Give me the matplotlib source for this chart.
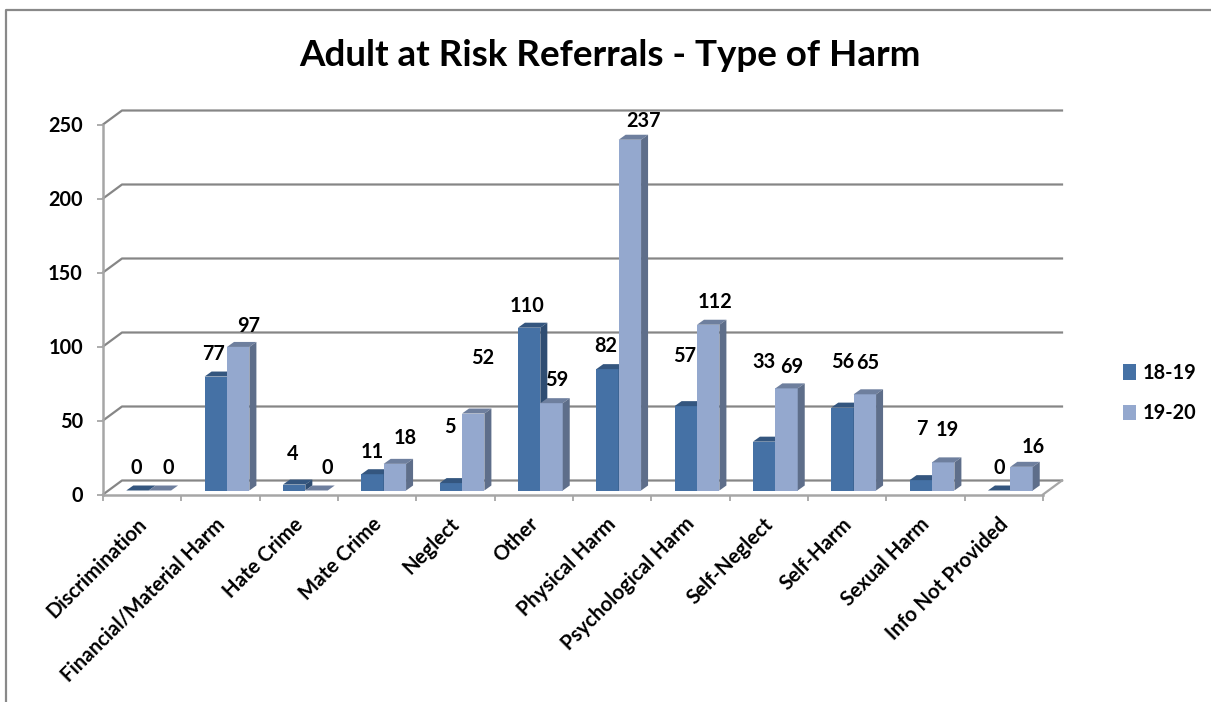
## Adult at Risk Referrals bar chart, drawn to look like a 3D column chart
import matplotlib
matplotlib.use('Agg')
import matplotlib.pyplot as plt
import numpy as np
from matplotlib.lines import Line2D
from matplotlib.transforms import ScaledTranslation

#-----Data---------
categories = ['Discrimination', 'Financial/Material Harm', 'Hate Crime', 'Mate Crime',
              'Neglect', 'Other', 'Physical Harm', 'Psychological Harm', 'Self-Neglect',
              'Self-Harm', 'Sexual Harm', 'Info Not Provided']
vals_1819 = [0, 77, 4, 11, 5, 110, 82, 57, 33, 56, 7, 0]
vals_1920 = [0, 97, 0, 18, 52, 59, 237, 112, 69, 65, 19, 16]
yticks = [0, 50, 100, 150, 200, 250]

#-----data label nudges, pixels from the top centre of each bar
nudge_x_1819 = [-1.5, -2, -1, -0.5, -1, -2, -1.5, -1, 0, 0, 1, 0]
nudge_y_1819 = [23, 23, 31, 22, 56, 22, 23, 50, 80, 46, 51, 22]
nudge_x_1920 = [8, 10, 10.5, 10, 9, 5.5, 14, 7, 5.5, 3, 4, 11.5]
nudge_y_1920 = [23, 21, 23, 26, 56, 23, 19, 23, 21, 31, 32, 20]

plt.rcParams['font.family'] = ['Lato', 'DejaVu Sans']
plt.rcParams['font.weight'] = 'bold'

W, H = 1211, 702
LEFT, RIGHT, BASE, TOP = 103, 1043, 494.5, 124.5
GRID = '#868686'
AXIS = '#a6a6a6'
LABEL_SIZE = 14.3

fig = plt.figure(figsize=(W / 100, H / 100), dpi=100)
ax = fig.add_axes([LEFT / W, 1 - BASE / H, (RIGHT - LEFT) / W, (BASE - TOP) / H])
ax.set_xlim(0, len(categories))
ax.set_ylim(0, 250)

#-----pixel to data scale, used for the fake depth
px = len(categories) / (RIGHT - LEFT)
py = 250 / (BASE - TOP)
wall_x, wall_y = 19 * px, 14 * py
bar_w = 22.4 * px
shift_x, shift_y = 6.5 * px, 4 * py
depth_x, depth_y = 7 * px, 5 * py


def draw_series(x_left, vals, front, top, side, z):
    bars = ax.bar(x_left, vals, bar_w, bottom=shift_y, align='edge', color=front,
                  linewidth=0, zorder=z)
    for xl, v in zip(x_left, vals):
        yt = v + shift_y
        xr = xl + bar_w
        ax.fill([xl, xr, xr + depth_x, xl + depth_x],
                [yt, yt, yt + depth_y, yt + depth_y], color=top, lw=0, zorder=z, clip_on=False)
        if v > 0:
            ax.fill([xr, xr + depth_x, xr + depth_x, xr],
                    [shift_y, shift_y + depth_y, yt + depth_y, yt],
                    color=side, lw=0, zorder=z, clip_on=False)
    return bars


##-----------walls and floor-----------------
x_end = len(categories)
for t in yticks:
    ax.plot([0, wall_x, x_end + wall_x], [t, t + wall_y, t + wall_y], color=GRID, lw=1.6,
            clip_on=False, zorder=1, solid_joinstyle='round')
ax.plot([x_end, x_end + wall_x], [0, wall_y], color=AXIS, lw=1.6, clip_on=False, zorder=1)

##-----------bars-----------------
pos = np.arange(len(categories)) + 0.5 + shift_x
bars_a = draw_series(pos - bar_w, vals_1819, '#4571a5', '#34567f', '#2f4d72', 3)
bars_b = draw_series(pos, vals_1920, '#94a8ce', '#6e7f9e', '#5e6e8a', 4)

for xs, vals, nx, ny in [(pos - bar_w / 2, vals_1819, nudge_x_1819, nudge_y_1819),
                         (pos + bar_w / 2, vals_1920, nudge_x_1920, nudge_y_1920)]:
    for xc, v, dx, dy in zip(xs, vals, nx, ny):
        ax.annotate(str(v), (xc, v + shift_y), xytext=(dx, dy), textcoords='offset pixels',
                    ha='center', va='center', fontsize=LABEL_SIZE, fontweight='bold',
                    color='black', zorder=6, annotation_clip=False)

##-----------axes-----------------
for name in ['top', 'right']:
    ax.spines[name].set_visible(False)
for name in ['left', 'bottom']:
    ax.spines[name].set_color(AXIS)
    ax.spines[name].set_linewidth(1.8)
ax.patch.set_alpha(0)

ax.set_yticks(yticks)
ax.tick_params(axis='y', length=4.5, width=1.3, color=AXIS, pad=10, labelsize=LABEL_SIZE)
ax.set_xticks(np.arange(len(categories) + 1))
ax.tick_params(axis='x', which='major', length=4.5, width=1.3, color=AXIS, labelbottom=False)
ax.set_xticks(np.arange(len(categories)) + 0.5, minor=True)
ax.set_xticklabels(categories, minor=True, rotation=45, ha='right', va='top',
                   rotation_mode='anchor', fontsize=14.7, fontweight='bold')
ax.tick_params(axis='x', which='minor', length=0, pad=14)
label_shift = ScaledTranslation(-6 / 100, 0, fig.dpi_scale_trans)
for lab in ax.get_xticklabels(minor=True):
    lab.set_transform(lab.get_transform() + label_shift)
for lab in ax.get_yticklabels():
    lab.set_fontweight('bold')

fig.text(610 / W, 1 - 55 / H, 'Adult at Risk Referrals - Type of Harm', ha='center', va='center',
         fontsize=26.5, fontweight='bold', color='black')

leg = fig.legend([bars_a, bars_b], ['18-19', '19-20'], loc='center left',
                 bbox_to_anchor=(1123 / W, 1 - 393 / H), frameon=False, fontsize=LABEL_SIZE,
                 handlelength=0.66, handleheight=0.85, handletextpad=0.32, labelspacing=1.05,
                 borderpad=0, borderaxespad=0)

##-----------outer chart frame-----------------
fig.add_artist(Line2D([6 / W, 6 / W, 1], [0, 1 - 10 / H, 1 - 10 / H], color='#898989', lw=1.6,
                      transform=fig.transFigure))

fig.savefig('out.png', dpi=100, facecolor='white')
